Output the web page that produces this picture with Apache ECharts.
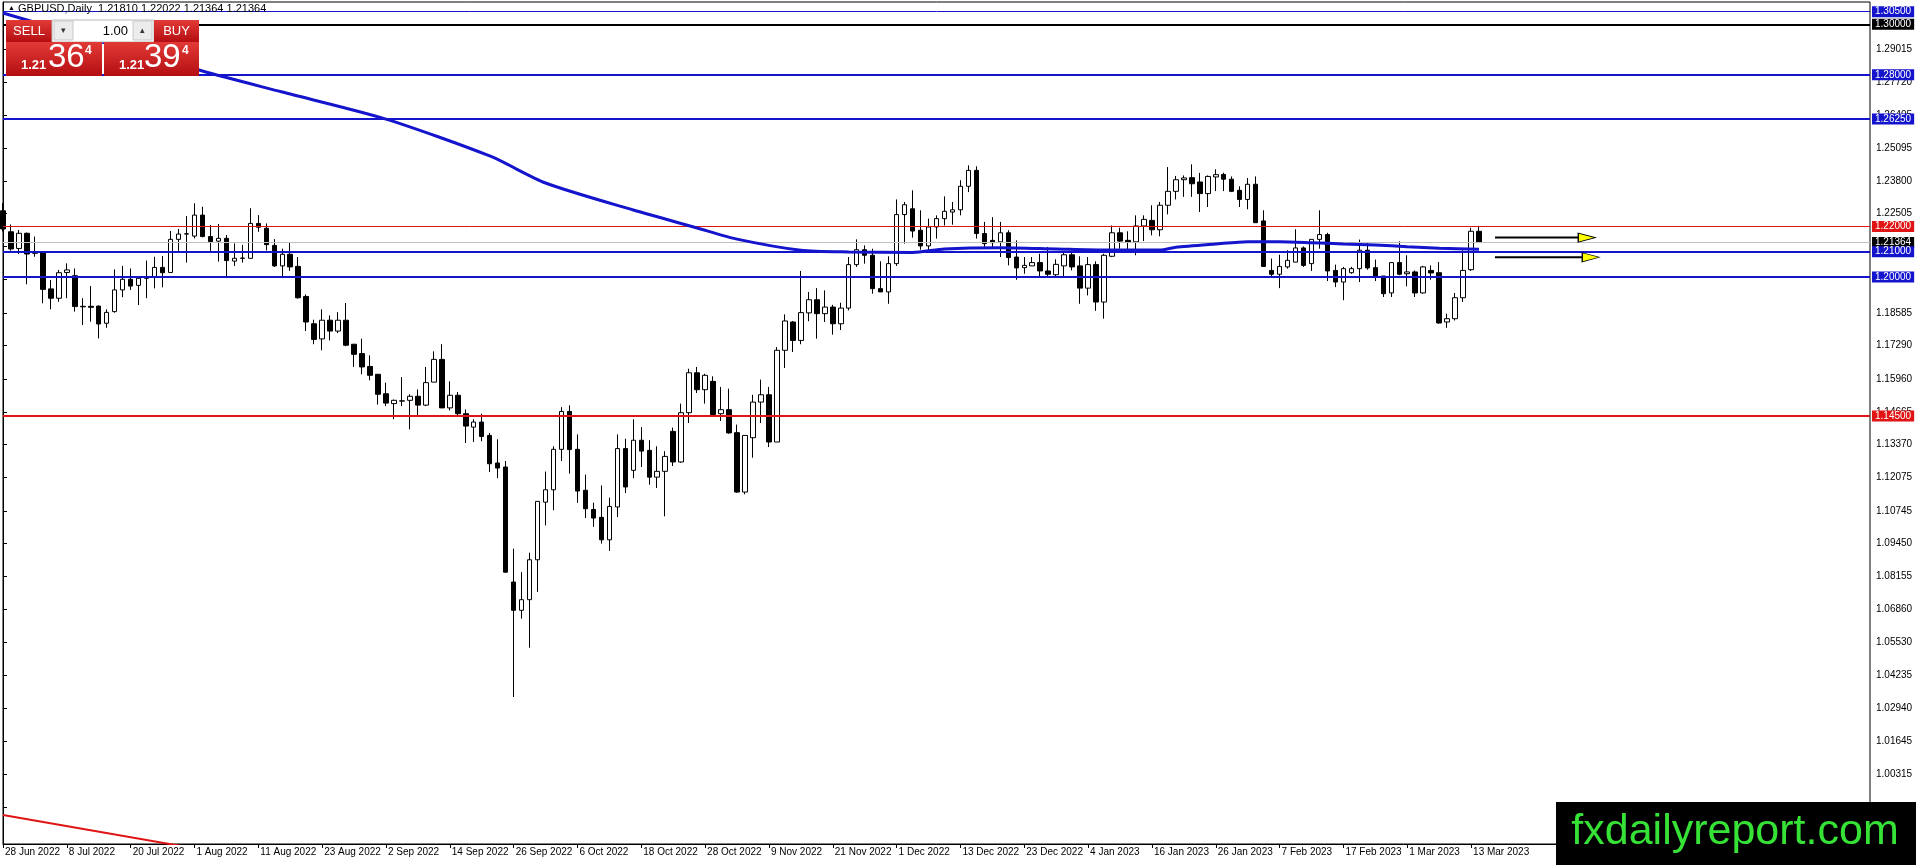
<!DOCTYPE html>
<html><head><meta charset="utf-8">
<script src="https://cdn.jsdelivr.net/npm/echarts@6/dist/echarts.min.js"></script>
<style>html,body{margin:0;padding:0;background:#fff;}#c{width:1916px;height:865px;}</style>
</head><body><div id="c"></div>
<script>
// ---------------- DATA ----------------
const tickLabels = ["28 Jun 2022","8 Jul 2022","20 Jul 2022","1 Aug 2022","11 Aug 2022","23 Aug 2022","2 Sep 2022","14 Sep 2022","26 Sep 2022","6 Oct 2022","18 Oct 2022","28 Oct 2022","9 Nov 2022","21 Nov 2022","1 Dec 2022","13 Dec 2022","23 Dec 2022","4 Jan 2023","16 Jan 2023","26 Jan 2023","7 Feb 2023","17 Feb 2023","1 Mar 2023","13 Mar 2023"];

const open = [1.2262,1.2179,1.2113,1.2173,1.2100,1.2100,1.1953,1.1916,1.2018,1.2005,1.1884,1.1884,1.1885,1.1817,1.1863,1.1949,1.1991,1.1967,1.1999,1.1999,1.2038,1.2018,1.2149,1.2170,1.2162,1.2245,1.2160,1.2142,1.2153,1.2063,1.2074,1.2074,1.2212,1.2193,1.2125,1.2044,1.2090,1.2042,1.1923,1.1815,1.1755,1.1829,1.1786,1.1829,1.1734,1.1697,1.1646,1.1615,1.1538,1.1499,1.1509,1.1512,1.1528,1.1493,1.1584,1.1674,1.1482,1.1532,1.1459,1.1406,1.1426,1.1373,1.1264,1.1248,1.0793,1.0681,1.0723,1.0881,1.1109,1.1158,1.1318,1.1468,1.1318,1.1156,1.1080,1.1049,1.0960,1.1090,1.1321,1.1235,1.1354,1.1314,1.1208,1.1231,1.1389,1.1268,1.1463,1.1621,1.1554,1.1587,1.1459,1.1475,1.1384,1.1149,1.1364,1.1505,1.1534,1.1347,1.1710,1.1822,1.1749,1.1858,1.1910,1.1855,1.1881,1.1815,1.1877,1.2049,1.2108,1.2086,1.1954,1.1941,1.2053,1.2247,1.2270,1.2185,1.2123,1.2198,1.2231,1.2257,1.2266,1.2359,1.2422,1.2172,1.2145,1.2139,1.2175,1.2079,1.2037,1.2044,1.2057,1.2024,1.2009,1.2044,1.2088,1.2044,1.1956,1.2049,1.1901,1.2082,1.2175,1.2145,1.2139,1.2202,1.2224,1.2187,1.2284,1.2339,1.2385,1.2393,1.2376,1.2330,1.2396,1.2406,1.2387,1.2343,1.2307,1.2367,1.2222,1.2026,1.2011,1.2040,1.2059,1.2115,1.2053,1.2149,1.2168,1.2026,1.1980,1.2017,1.2033,1.2106,1.2037,1.2004,1.1937,1.2057,1.2013,1.2020,1.1937,1.2026,1.2017,1.1822,1.1835,1.1918,1.2029,1.21810];
const high = [1.2292,1.2208,1.2186,1.2176,1.2160,1.2102,1.1988,1.2028,1.2054,1.2034,1.1916,1.1964,1.1887,1.1872,1.2030,1.2044,1.2034,1.1997,1.2065,1.2080,1.2083,1.2182,1.2190,1.2241,1.2292,1.2278,1.2206,1.2210,1.2166,1.2133,1.2127,1.2272,1.2245,1.2212,1.2150,1.2112,1.2135,1.2079,1.1931,1.1831,1.1872,1.1848,1.1861,1.1897,1.1734,1.1756,1.1690,1.1615,1.1582,1.1515,1.1604,1.1536,1.1555,1.1644,1.1706,1.1734,1.1587,1.1545,1.1476,1.1437,1.1459,1.1383,1.1358,1.1272,1.0925,1.0832,1.0909,1.1112,1.1230,1.1330,1.1485,1.1492,1.1377,1.1218,1.1107,1.1175,1.1127,1.1377,1.1360,1.1437,1.1406,1.1354,1.1330,1.1311,1.1404,1.1499,1.1637,1.1644,1.1617,1.1607,1.1565,1.1558,1.1416,1.1373,1.1534,1.1594,1.1565,1.1723,1.1852,1.1826,1.2024,1.1941,1.1956,1.1947,1.1890,1.1898,1.2079,1.2149,1.2125,1.2112,1.2062,1.2082,1.2307,1.2297,1.2343,1.2264,1.2231,1.2244,1.2319,1.2297,1.2383,1.2442,1.2438,1.2218,1.2237,1.2218,1.2185,1.2145,1.2079,1.2079,1.2092,1.2119,1.2070,1.2096,1.2096,1.2082,1.2079,1.2062,1.2092,1.2204,1.2195,1.2181,1.2244,1.2244,1.2284,1.2297,1.2435,1.2400,1.2402,1.2446,1.2412,1.2402,1.2426,1.2413,1.2398,1.2359,1.2392,1.2398,1.2264,1.2073,1.2088,1.2106,1.2189,1.2121,1.2149,1.2264,1.2175,1.2049,1.2040,1.2040,1.2148,1.2135,1.2069,1.2004,1.2059,1.2141,1.2086,1.2026,1.2044,1.2046,1.2059,1.1855,1.1937,1.2106,1.2195,1.22022];
const low = [1.2180,1.2104,1.2091,1.1971,1.2080,1.1896,1.1872,1.1902,1.1916,1.1863,1.1810,1.1823,1.1757,1.1799,1.1859,1.1920,1.1949,1.1889,1.1916,1.1955,1.1959,1.2018,1.2103,1.2057,1.2153,1.2157,1.2103,1.2061,1.2001,1.2044,1.2057,1.2074,1.2179,1.2105,1.2040,1.2003,1.2024,1.1914,1.1786,1.1734,1.1710,1.1749,1.1778,1.1726,1.1644,1.1615,1.1591,1.1495,1.1489,1.1437,1.1489,1.1397,1.1454,1.1489,1.1584,1.1482,1.1472,1.1453,1.1343,1.1347,1.1350,1.1228,1.1204,1.0830,1.0338,1.0648,1.0533,1.0754,1.1017,1.1077,1.1272,1.1222,1.1106,1.1046,1.1011,1.0945,1.0916,1.1050,1.1145,1.1204,1.1248,1.1178,1.1165,1.1053,1.1252,1.1265,1.1422,1.1541,1.1499,1.1453,1.1430,1.1380,1.1146,1.1140,1.1285,1.1422,1.1327,1.1347,1.1640,1.1703,1.1734,1.1825,1.1756,1.1822,1.1772,1.1790,1.1868,1.2040,1.2053,1.1934,1.1941,1.1894,1.2044,1.2132,1.2156,1.2108,1.2106,1.2152,1.2204,1.2207,1.2244,1.2336,1.2152,1.2119,1.2112,1.2079,1.2046,1.1989,1.2013,1.2044,1.2004,1.2004,1.2003,1.2003,1.2026,1.1894,1.1927,1.1866,1.1835,1.2079,1.2112,1.2102,1.2086,1.2142,1.2165,1.2161,1.2248,1.2307,1.2317,1.2317,1.2257,1.2277,1.2340,1.2340,1.2336,1.2277,1.2268,1.2215,1.2040,1.2000,1.1956,1.2033,1.2059,1.2040,1.2024,1.2112,1.1984,1.1960,1.1908,1.2013,1.1980,1.2029,1.1984,1.1921,1.1921,1.2007,1.1963,1.1921,1.1934,1.1989,1.1815,1.1799,1.1828,1.1901,1.2024,1.21364];
const close = [1.2190,1.2111,1.2173,1.2091,1.2094,1.1951,1.1916,1.2017,1.2028,1.1883,1.1882,1.1880,1.1814,1.1860,1.1949,1.1991,1.1964,1.1995,1.1995,1.2038,1.2017,1.2149,1.2170,1.2171,1.2245,1.2160,1.2140,1.2153,1.2065,1.2074,1.2075,1.2212,1.2197,1.2128,1.2044,1.2090,1.2040,1.1918,1.1822,1.1753,1.1829,1.1786,1.1829,1.1730,1.1694,1.1644,1.1611,1.1536,1.1501,1.1512,1.1510,1.1528,1.1493,1.1582,1.1674,1.1482,1.1532,1.1459,1.1410,1.1426,1.1369,1.1261,1.1244,1.0832,1.0681,1.0723,1.0881,1.1112,1.1158,1.1318,1.1468,1.1317,1.1153,1.1083,1.1046,1.0960,1.1092,1.1321,1.1169,1.1354,1.1311,1.1208,1.1231,1.1290,1.1268,1.1463,1.1621,1.1554,1.1611,1.1456,1.1475,1.1383,1.1149,1.1373,1.1505,1.1534,1.1347,1.1710,1.1826,1.1749,1.1859,1.1910,1.1855,1.1881,1.1815,1.1877,1.2049,1.2108,1.2086,1.1954,1.1941,1.2053,1.2247,1.2286,1.2182,1.2123,1.2198,1.2231,1.2260,1.2266,1.2359,1.2422,1.2172,1.2132,1.2136,1.2175,1.2077,1.2036,1.2046,1.2057,1.2024,1.2011,1.2050,1.2088,1.2040,1.1956,1.2049,1.1901,1.2086,1.2175,1.2142,1.2137,1.2202,1.2228,1.2187,1.2284,1.2339,1.2385,1.2392,1.2369,1.2330,1.2398,1.2405,1.2387,1.2339,1.2307,1.2367,1.2215,1.2042,1.2011,1.2042,1.2066,1.2115,1.2046,1.2149,1.2168,1.2024,1.1980,1.2033,1.2033,1.2106,1.2036,1.2003,1.1934,1.2057,1.2011,1.2020,1.1937,1.2040,1.2016,1.1818,1.1835,1.1918,1.2026,1.2181,1.21364];

// 200-period moving average at these bar indices
const maIndex = [0,25,35,48,61,68,79,87,92,100,106,114,118,125,132,138,145,147,152,156,160,164,168,172,176,180,185];
const maValue = [1.3045,1.2815,1.2732,1.2625,1.2479,1.2372,1.2265,1.2194,1.2150,1.2106,1.2099,1.2097,1.2111,1.2116,1.2111,1.2107,1.2107,1.2118,1.2131,1.2140,1.2140,1.2136,1.2131,1.2127,1.2120,1.2114,1.2110];

// red trend line (bottom-left)
const trendIndex = [0, 40];
const trendValue = [0.9871, 0.9651];

// horizontal levels
const levelValues = [1.30500, 1.30000, 1.28000, 1.26250, 1.22000, 1.21364, 1.21000, 1.20000, 1.14500];

// arrows (yellow heads) after the last bar
const arrowValues = [1.2156, 1.2078];
const arrowStart = [187, 187];
const arrowEnd = [197.4, 197.9];
const arrowHead = [198.5, 199.0];

// y-axis tick labels
const yTicks = [1.29015,1.27720,1.26405,1.25095,1.23800,1.22505,1.21200,1.19895,1.18585,1.17290,1.15960,1.14665,1.13370,1.12075,1.10745,1.09450,1.08155,1.06860,1.05530,1.04235,1.02940,1.01645,1.00315,0.99020];

const yMin = 0.97562, yMax = 1.30883;
const padBars = 49;

// ---------------- BUILD ----------------
const cats = [];
{
  let d = new Date(Date.UTC(2022, 5, 28));
  while (cats.length < open.length) {
    const wd = d.getUTCDay();
    if (wd !== 0 && wd !== 6) cats.push(d.toISOString().slice(0, 10));
    d.setUTCDate(d.getUTCDate() + 1);
  }
  for (let k = 0; k < padBars; k++) cats.push('pad' + k);
}
const nReal = open.length;
const kData = open.map((o, i) => [o, close[i], low[i], high[i]]);

const BLUE = '#1414cc', RED = '#e01414';
const levelStyle = [
  {c: BLUE, w: 1, tag: BLUE},
  {c: '#000', w: 2, tag: '#000'},
  {c: BLUE, w: 2, tag: BLUE},
  {c: BLUE, w: 2, tag: BLUE},
  {c: RED, w: 1, tag: RED},
  {c: '#c0c0c0', w: 1, tag: '#000'},
  {c: BLUE, w: 2, tag: BLUE},
  {c: BLUE, w: 2, tag: BLUE},
  {c: RED, w: 2, tag: RED}
];
const FONT = 'Liberation Sans, Arial, sans-serif';

const series = [
  {
    type: 'candlestick', xAxisIndex: 0, yAxisIndex: 0,
    data: kData, barWidth: 5, clip: true, z: 3,
    itemStyle: {color: '#ffffff', color0: '#000000', borderColor: '#000000', borderColor0: '#000000', borderWidth: 1},
    markLine: {
      silent: true, symbol: ['none', 'none'], animation: false, precision: 5,
      data: levelValues.map((v, k) => ({
        yAxis: v,
        lineStyle: {color: levelStyle[k].c, width: levelStyle[k].w, type: 'solid'},
        label: {show: true, position: 'end', distance: 2, formatter: v.toFixed(5),
          backgroundColor: levelStyle[k].tag, color: '#fff', padding: [1, 3, 0, 3],
          fontSize: 10, lineHeight: 10, fontFamily: FONT}
      }))
    }
  },
  {
    type: 'line', xAxisIndex: 1, yAxisIndex: 0, z: 5,
    data: maIndex.map((x, k) => [x, maValue[k]]),
    showSymbol: false, smooth: 0.25, clip: true,
    lineStyle: {color: BLUE, width: 3}
  },
  {
    type: 'line', xAxisIndex: 1, yAxisIndex: 0, z: 5,
    data: trendIndex.map((x, k) => [x, trendValue[k]]),
    showSymbol: false, clip: true,
    lineStyle: {color: RED, width: 2}
  }
];
arrowValues.forEach((v, k) => {
  series.push({
    type: 'line', xAxisIndex: 1, yAxisIndex: 0, z: 6,
    data: [[arrowStart[k], v], [arrowEnd[k], v]], showSymbol: false,
    lineStyle: {color: '#000', width: 2}
  });
});
series.push({
  type: 'scatter', xAxisIndex: 1, yAxisIndex: 0, z: 7,
  data: arrowValues.map((v, k) => [arrowHead[k], v]),
  symbol: 'triangle', symbolRotate: -90, symbolSize: [9, 17],
  itemStyle: {color: '#ffff00', borderColor: '#000', borderWidth: 1, opacity: 1}
});

const redGrad = () => new echarts.graphic.LinearGradient(0, 0, 0, 1, [
  {offset: 0, color: '#e23a36'}, {offset: 1, color: '#b40e12'}]);

const graphic = [
  // title
  {type: 'text', left: 8, top: 5, z: 100, style: {text: '▲', fontSize: 7, fill: '#000', font: '7px ' + FONT}},
  {type: 'text', left: 18, top: 3, z: 100, style: {text: 'GBPUSD,Daily  1.21810 1.22022 1.21364 1.21364', fill: '#000', font: '11px ' + FONT}},
  // trade panel
  {type: 'rect', shape: {x: 6, y: 20, width: 46, height: 22}, z: 100, style: {fill: redGrad()}},
  {type: 'text', x: 29, y: 31, z: 101, style: {text: 'SELL', fill: '#fff', font: '13px ' + FONT, align: 'center', verticalAlign: 'middle'}},
  {type: 'rect', shape: {x: 52, y: 20, width: 102, height: 22}, z: 100, style: {fill: '#ffffff', stroke: '#b8b8b8', lineWidth: 1}},
  {type: 'rect', shape: {x: 54, y: 21, width: 19, height: 19}, z: 101, style: {fill: '#ececec', stroke: '#c8c8c8', lineWidth: 1}},
  {type: 'rect', shape: {x: 133, y: 21, width: 19, height: 19}, z: 101, style: {fill: '#ececec', stroke: '#c8c8c8', lineWidth: 1}},
  {type: 'text', x: 63.5, y: 31, z: 102, style: {text: '▾', fill: '#333', font: '9px ' + FONT, align: 'center', verticalAlign: 'middle'}},
  {type: 'text', x: 142.5, y: 31, z: 102, style: {text: '▴', fill: '#333', font: '9px ' + FONT, align: 'center', verticalAlign: 'middle'}},
  {type: 'text', x: 128, y: 31, z: 102, style: {text: '1.00', fill: '#000', font: '13px ' + FONT, align: 'right', verticalAlign: 'middle'}},
  {type: 'rect', shape: {x: 154, y: 20, width: 45, height: 22}, z: 100, style: {fill: redGrad()}},
  {type: 'text', x: 176.5, y: 31, z: 101, style: {text: 'BUY', fill: '#fff', font: '13px ' + FONT, align: 'center', verticalAlign: 'middle'}},
  {type: 'rect', shape: {x: 6, y: 42, width: 96, height: 34}, z: 100, style: {fill: redGrad()}},
  {type: 'rect', shape: {x: 104, y: 42, width: 95, height: 34}, z: 100, style: {fill: redGrad()}},
  {type: 'text', x: 21, y: 72, z: 101, style: {text: '1.21', fill: '#fff', font: 'bold 13px ' + FONT, verticalAlign: 'bottom'}},
  {type: 'text', x: 48, y: 74, z: 101, style: {text: '36', fill: '#fff', font: '33px ' + FONT, verticalAlign: 'bottom'}},
  {type: 'text', x: 85, y: 45, z: 101, style: {text: '4', fill: '#fff', font: 'bold 12px ' + FONT, verticalAlign: 'top'}},
  {type: 'text', x: 119, y: 72, z: 101, style: {text: '1.21', fill: '#fff', font: 'bold 13px ' + FONT, verticalAlign: 'bottom'}},
  {type: 'text', x: 144, y: 74, z: 101, style: {text: '39', fill: '#fff', font: '33px ' + FONT, verticalAlign: 'bottom'}},
  {type: 'text', x: 182, y: 45, z: 101, style: {text: '4', fill: '#fff', font: 'bold 12px ' + FONT, verticalAlign: 'top'}},
  // watermark
  {type: 'rect', shape: {x: 1556, y: 802, width: 360, height: 63}, z: 100, style: {fill: '#000'}},
  {type: 'text', x: 1735, y: 832, z: 101, style: {text: 'fxdailyreport.com', fill: '#36e236', font: '43px ' + FONT, align: 'center', verticalAlign: 'middle'}}
];

const chart = echarts.init(document.getElementById('c'), null, {renderer: 'canvas'});
chart.setOption({
  animation: false,
  backgroundColor: '#ffffff',
  grid: {left: 3, right: 46, top: 2, bottom: 21, show: true, borderColor: '#000', borderWidth: 1, backgroundColor: 'transparent'},
  xAxis: [
    {
      type: 'category', data: cats, boundaryGap: false,
      axisLine: {show: true, lineStyle: {color: '#000', width: 1}},
      axisTick: {show: true, length: 4, interval: (i) => i % 8 === 0 && i < nReal, lineStyle: {color: '#000'}},
      axisLabel: {show: true, interval: (i) => i % 8 === 0 && i < nReal,
        formatter: (v, i) => (i % 8 === 0 && i < nReal) ? tickLabels[i / 8] : '',
        align: 'left', margin: 3, padding: [0, 0, 0, 2], color: '#000', fontSize: 10, fontFamily: FONT},
      splitLine: {show: false}
    },
    {type: 'value', min: 0, max: cats.length - 1, show: false}
  ],
  yAxis: {
    type: 'value', position: 'right', min: yMin, max: yMax, scale: true,
    splitLine: {show: false},
    axisLine: {show: true, lineStyle: {color: '#000', width: 1}},
    axisTick: {show: true, length: 4, customValues: yTicks, lineStyle: {color: '#000'}},
    axisLabel: {show: true, customValues: yTicks, formatter: (v) => Number(v).toFixed(5),
      margin: 6, color: '#000', fontSize: 10, fontFamily: FONT}
  },
  series: series,
  graphic: graphic
});
</script>
</body></html>
